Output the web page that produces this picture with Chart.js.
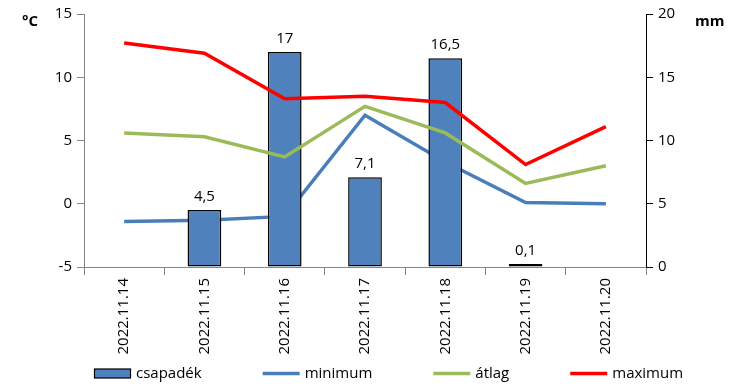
<!DOCTYPE html>
<html>
<head>
<meta charset="utf-8">
<script src="https://cdn.jsdelivr.net/npm/chart.js@4/dist/chart.umd.min.js"></script>
<style>
html,body{margin:0;padding:0;background:#fff;}
#wrap{width:743px;height:392px;position:relative;}
</style>
</head>
<body>
<div id="wrap"><canvas id="c"></canvas></div>
<script>
// ---- data ----
const categories = ['2022.11.14','2022.11.15','2022.11.16','2022.11.17','2022.11.18','2022.11.19','2022.11.20'];
const csapadek = [null, 4.5, 17, 7.1, 16.5, 0.1, null];
const minimum = [-1.4, -1.3, -1.0, 7.0, 3.3, 0.1, 0.0];
const atlag = [5.6, 5.3, 3.7, 7.7, 5.6, 1.6, 3.0];
const maximum = [12.7, 11.9, 8.3, 8.5, 8.0, 3.1, 6.1];
const tempTicks = [-5, 0, 5, 10, 15];
const rainTicks = [0, 5, 10, 15, 20];
const tempUnit = '°C';
const rainUnit = 'mm';

const FONT = '"Open Sans", "Liberation Sans", sans-serif';
const BLUE = '#4F81BD';

const extras = {
  id: 'extras',
  afterDatasetsDraw(chart) {
    const ctx = chart.ctx;
    const meta = chart.getDatasetMeta(0);
    ctx.save();
    ctx.font = '15px ' + FONT;
    ctx.fillStyle = '#000';
    ctx.textAlign = 'center';
    ctx.textBaseline = 'alphabetic';
    meta.data.forEach((bar, i) => {
      const v = csapadek[i];
      if (v === null || v === undefined) return;
      ctx.fillText(String(v).replace('.', ','), bar.x, bar.y - 9);
    });
    ctx.restore();
  },
  afterDraw(chart) {
    const ctx = chart.ctx;
    ctx.save();
    // unit titles
    ctx.font = 'bold 15px ' + FONT;
    ctx.fillStyle = '#000';
    ctx.textBaseline = 'alphabetic';
    ctx.textAlign = 'left';
    ctx.fillText(tempUnit, 22, 26);
    ctx.fillText(rainUnit, 695, 26);
    // legend
    ctx.font = '15px ' + FONT;
    const yc = 373.5;
    let x = 94;
    chart.data.datasets.forEach((ds) => {
      const symW = 37;
      if (ds.type === 'bar') {
        ctx.fillStyle = ds.backgroundColor;
        ctx.fillRect(x, yc - 4.5, symW, 9);
        ctx.strokeStyle = '#000';
        ctx.lineWidth = 1.2;
        ctx.strokeRect(x + 0.5, yc - 4.5, symW - 1, 9);
      } else {
        ctx.strokeStyle = ds.borderColor;
        ctx.lineWidth = 3.5;
        ctx.beginPath();
        ctx.moveTo(x, yc);
        ctx.lineTo(x + symW, yc);
        ctx.stroke();
      }
      ctx.fillStyle = '#000';
      ctx.textBaseline = 'middle';
      ctx.fillText(ds.label, x + symW + 5, yc);
      x += symW + 5 + ctx.measureText(ds.label).width + 61;
    });
    ctx.restore();
  }
};

new Chart(document.getElementById('c'), {
  data: {
    labels: categories,
    datasets: [
      { type: 'bar', label: 'csapadék', data: csapadek, yAxisID: 'y1',
        backgroundColor: BLUE, borderColor: '#000', borderWidth: 1.5, borderSkipped: false,
        minBarLength: 3, barPercentage: 0.42, categoryPercentage: 1, order: 2 },
      { type: 'line', label: 'minimum', data: minimum, yAxisID: 'y',
        borderColor: '#4A7EBB', borderWidth: 3.5, pointRadius: 0, tension: 0, order: 3 },
      { type: 'line', label: 'átlag', data: atlag, yAxisID: 'y',
        borderColor: '#9BBB59', borderWidth: 3.5, pointRadius: 0, tension: 0, order: 1 },
      { type: 'line', label: 'maximum', data: maximum, yAxisID: 'y',
        borderColor: '#FF0000', borderWidth: 3.5, pointRadius: 0, tension: 0, order: 0 }
    ]
  },
  options: {
    responsive: true,
    maintainAspectRatio: false,
    animation: false,
    layout: { padding: { top: 11, left: 0, right: 0, bottom: 0 } },
    plugins: { legend: { display: false }, tooltip: { enabled: false } },
    scales: {
      x: {
        offset: true,
        grid: { display: true, offset: true, drawOnChartArea: false, drawTicks: true, tickLength: 8, color: '#868686' },
        border: { display: true, color: '#868686', width: 1 },
        ticks: { minRotation: 90, maxRotation: 90, autoSkip: false, padding: 3,
                 font: { family: FONT, size: 15 }, color: '#000' },
        afterFit: s => { s.height = 125; }
      },
      y: {
        position: 'left', min: -5, max: 15,
        afterBuildTicks: s => { s.ticks = tempTicks.map(v => ({ value: v })); },
        grid: { drawOnChartArea: false, tickLength: 7, color: '#868686' },
        border: { display: true, color: '#868686', width: 1 },
        ticks: { padding: 5, font: { family: FONT, size: 15 }, color: '#000' },
        afterFit: s => { s.width = 84; }
      },
      y1: {
        position: 'right', min: 0, max: 20,
        afterBuildTicks: s => { s.ticks = rainTicks.map(v => ({ value: v })); },
        grid: { drawOnChartArea: false, tickLength: 7, color: '#000' },
        border: { display: true, color: '#000', width: 1 },
        ticks: { padding: 5, font: { family: FONT, size: 15 }, color: '#000' },
        afterFit: s => { s.width = 97; }
      }
    }
  },
  plugins: [extras]
});
</script>
</body>
</html>
